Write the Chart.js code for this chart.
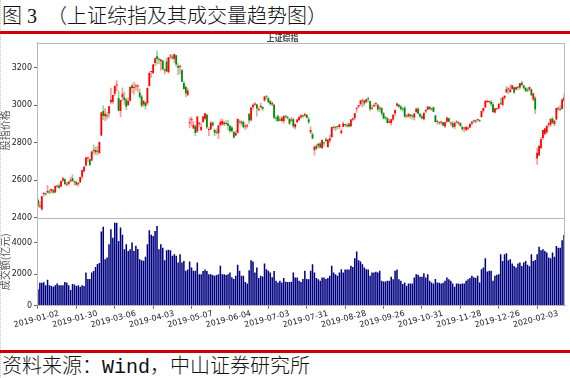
<!DOCTYPE html>
<html>
<head>
<meta charset="utf-8">
<title>上证综指及其成交量趋势图</title>
<script src="https://cdn.jsdelivr.net/npm/chart.js@4.4.1/dist/chart.umd.min.js"></script>
<style>
  html, body { margin: 0; padding: 0; background: #fff; }
  #page { position: relative; width: 570px; height: 378px; overflow: hidden; }
  .edge { position: absolute; left: 0; top: 0; height: 378px; border-left: 1px dotted #c8c8c8; }
  .caption { position: absolute; left: 2px; top: 6px; font-size: 20px; line-height: 20px; white-space: pre; font-weight: 300;
             font-family: "Liberation Serif", "Noto Sans CJK SC", serif; color: #111; }
  .rule { position: absolute; left: 0; width: 570px; height: 3px; background: #d00000; }
  .source { position: absolute; left: 2px; top: 358px; font-size: 20px; line-height: 20px; font-weight: 300;
            font-family: "Liberation Mono", "Noto Sans CJK SC", monospace; color: #111; }
  #chartBox { position: absolute; left: 0; top: 33px; width: 570px; height: 300px; }
</style>
</head>
<body>
<div id="page">
  <div class="edge"></div>
  <div class="caption">图 3  （上证综指及其成交量趋势图）</div>
  <div class="rule" style="top:31px"></div>
  <div id="chartBox"><canvas id="index-chart"></canvas></div>
  <div class="rule" style="top:350px"></div>
  <div class="source">资料来源：Wind，中山证券研究所</div>
</div>
<script>
// trading calendar: weekdays minus exchange holidays
const firstDay = '2019-01-02';
const lastDay = '2020-02-21';
const holidays = [
    '2019-01-01', '2019-02-04', '2019-02-05', '2019-02-06', '2019-02-07', '2019-02-08',
    '2019-04-05', '2019-05-01', '2019-05-02', '2019-05-03', '2019-06-07', '2019-09-13',
    '2019-10-01', '2019-10-02', '2019-10-03', '2019-10-04', '2019-10-07',
    '2020-01-01', '2020-01-24', '2020-01-27', '2020-01-28', '2020-01-29', '2020-01-30', '2020-01-31'
];
const tickEvery = 20; // a date label every 20 trading days
const priceTicks = [2400, 2600, 2800, 3000, 3200];
const volumeTicks = [0, 2000, 4000];

// 上证综指 daily open / high / low / close (one line per month)
const opens = [
    2497,2461,2446,2528,2530,2535,2538,2543,2548,2536,2568,2572,2568,2598,2606,2576,2581,2595,2611,2590,2591,2579,
    2589,2619,2648,2679,2718,2712,2705,2763,2750,2757,2745,2838,2968,2940,2943,
    2955,3015,3018,3060,3104,3038,2969,3041,3041,3029,3001,3023,3104,3091,3099,3099,3067,3046,3003,3014,3010,
    3102,3176,3170,3223,3260,3245,3233,3237,3183,3231,3175,3258,3257,3245,3265,3207,3202,3185,3117,3096,3052,
    2903,2919,2876,2888,2861,2901,2866,2910,2928,2948,2868,2872,2907,2867,2856,2850,2893,2897,2899,2905,
    2902,2890,2881,2858,2838,2853,2914,2903,2911,2885,2888,2954,2919,2988,3002,3003,2973,2990,2990,
    3024,3046,3036,3020,3003,3002,2930,2941,2921,2915,2916,2942,2937,2927,2917,2925,2882,2909,2920,2935,2945,2944,2947,
    2925,2855,2845,2761,2783,2784,2796,2772,2799,2818,2777,2811,2829,2881,2879,2888,2884,2850,2885,2897,2888,2901,
    2887,2923,2931,2980,2992,3004,3020,3025,3016,3032,3020,2981,2993,3004,3002,2981,2985,2958,2934,2931,
    2906,2905,2924,2955,2997,3002,2992,2979,2986,2940,2940,2950,2941,2934,2962,2982,2952,2941,
    2925,2966,2977,2990,2978,2989,2944,2910,2908,2906,2909,2886,2911,2930,2902,2903,2883,2912,2903,2905,2884,
    2875,2868,2874,2881,2902,2917,2913,2921,2921,2937,2969,2987,3017,3016,3016,3005,2961,2978,2982,3008,3000,3037,
    3067,3089,3070,3085,3095,3083,3097,3094,3119,3104,3091,3081,3083,3083,3030,3037,
    2716,2732,2772,2825,2846,2856,2894,2897,2927,2899,2924,2981,2979,2979,3024
];
const highs = [
    2501,2488,2515,2536,2531,2574,2551,2555,2554,2571,2575,2582,2598,2618,2609,2590,2595,2618,2630,2596,2597,2590,
    2618,2654,2674,2721,2724,2713,2754,2789,2778,2782,2805,2961,2997,2982,2960,
    2994,3090,3055,3103,3130,3075,3027,3092,3068,3035,3038,3097,3111,3121,3112,3107,3087,3052,3024,3014,3093,
    3176,3180,3216,3253,3288,3253,3242,3237,3193,3248,3254,3270,3266,3271,3266,3221,3212,3190,3128,3103,3088,
    2933,2938,2914,2896,2940,2909,2906,2942,2956,2949,2880,2913,2910,2872,2874,2892,2923,2927,2914,2918,
    2920,2892,2888,2858,2865,2928,2922,2918,2915,2897,2898,2955,2988,3005,3012,3005,2988,3010,2993,
    3045,3049,3042,3024,3017,3004,2942,2948,2939,2939,2943,2945,2941,2927,2935,2930,2900,2924,2941,2949,2948,2957,2951,
    2935,2885,2852,2784,2793,2795,2802,2815,2800,2826,2818,2840,2883,2890,2884,2889,2898,2872,2911,2898,2902,2905,
    2924,2931,2957,2988,3000,3026,3033,3027,3032,3042,3023,2999,3008,3015,3002,2994,2987,2960,2942,2932,
    2924,2925,2950,2976,3011,3003,2999,2985,2993,2947,2955,2950,2946,2956,2984,2985,2957,2948,
    2960,2976,2992,2994,2983,2990,2947,2920,2910,2915,2910,2910,2936,2930,2910,2915,2907,2919,2912,2906,2891,
    2881,2885,2884,2902,2913,2922,2919,2926,2922,2968,2985,3026,3028,3023,3026,3014,2983,2984,3007,3036,3041,3051,
    3098,3094,3108,3105,3095,3097,3101,3116,3128,3106,3094,3091,3096,3087,3062,3045,
    2772,2787,2829,2867,2876,2890,2908,2927,2936,2918,2984,2990,2999,3030,3058
];
const lows = [
    2456,2455,2440,2516,2520,2533,2528,2533,2530,2536,2562,2557,2565,2595,2576,2571,2575,2590,2596,2574,2575,2568,
    2589,2609,2644,2675,2701,2677,2705,2742,2736,2736,2742,2838,2922,2917,2925,
    2934,3006,3006,3050,3075,2969,2937,3024,3004,2976,2998,3019,3066,3056,3081,3070,3037,2989,2993,2978,3001,
    3102,3147,3165,3210,3218,3220,3185,3187,3164,3177,3170,3245,3242,3225,3207,3160,3167,3123,3085,3044,3052,
    2878,2889,2874,2838,2853,2888,2866,2906,2921,2875,2837,2868,2887,2838,2846,2822,2889,2895,2890,2896,
    2870,2855,2857,2824,2838,2852,2900,2893,2879,2870,2877,2902,2915,2977,2998,2941,2969,2984,2970,
    3019,3031,3012,3001,2996,2927,2915,2912,2917,2911,2903,2931,2924,2897,2913,2879,2872,2907,2918,2931,2932,2940,2930,
    2901,2848,2820,2734,2761,2771,2772,2768,2784,2803,2775,2800,2829,2872,2865,2872,2876,2849,2885,2885,2883,2882,
    2885,2916,2923,2962,2986,2998,2990,2997,3012,3017,2969,2977,2993,2994,2966,2966,2945,2925,2922,2904,
    2905,2893,2918,2943,2992,2985,2972,2967,2935,2932,2934,2931,2925,2920,2962,2953,2934,2927,
    2920,2960,2975,2976,2970,2964,2909,2899,2896,2897,2891,2880,2908,2910,2893,2880,2875,2904,2895,2887,2865,
    2858,2863,2870,2880,2895,2907,2905,2914,2911,2936,2962,2987,3013,3011,2995,2961,2957,2975,2982,3005,2993,3030,
    3067,3060,3066,3084,3060,3081,3082,3084,3103,3085,3073,3071,3076,3050,3022,2955,
    2685,2731,2768,2816,2841,2850,2883,2887,2899,2891,2924,2970,2970,2979,3020
];
const closes = [
    2465,2464,2515,2533,2526,2544,2535,2554,2536,2570,2570,2560,2596,2611,2580,2581,2592,2602,2597,2594,2576,2585,
    2618,2654,2672,2721,2720,2682,2754,2756,2761,2752,2804,2961,2942,2954,2941,
    2994,3028,3054,3102,3106,2970,3027,3060,3027,2991,3022,3096,3091,3091,3101,3104,3043,2997,3023,2995,3091,
    3170,3177,3216,3247,3245,3240,3242,3190,3189,3178,3254,3263,3250,3271,3215,3199,3202,3124,3086,3063,3078,
    2906,2926,2894,2851,2939,2904,2884,2939,2956,2882,2871,2906,2892,2853,2853,2892,2910,2915,2906,2899,
    2890,2862,2861,2828,2852,2926,2909,2911,2882,2888,2890,2918,2987,3002,3008,2982,2976,2997,2979,
    3045,3044,3015,3005,3011,2933,2928,2915,2918,2931,2942,2938,2932,2901,2924,2887,2900,2923,2937,2945,2941,2952,2933,
    2909,2868,2822,2778,2769,2795,2775,2815,2797,2809,2816,2824,2883,2880,2880,2883,2897,2864,2902,2894,2891,2886,
    2924,2930,2957,2986,3000,3025,3021,3009,3031,3031,2978,2986,2999,3006,2977,2985,2955,2929,2932,2905,
    2914,2925,2948,2974,3008,2991,2979,2977,2938,2940,2954,2941,2940,2955,2980,2954,2939,2929,
    2958,2975,2992,2979,2979,2964,2910,2915,2905,2910,2891,2909,2934,2911,2904,2885,2906,2907,2903,2890,2872,
    2876,2885,2878,2899,2912,2914,2917,2924,2916,2968,2984,3022,3017,3017,3005,2963,2983,2982,3007,3005,3040,3050,
    3085,3084,3083,3105,3067,3095,3092,3116,3107,3090,3074,3076,3096,3052,3061,2977,
    2747,2783,2818,2867,2876,2890,2902,2927,2906,2917,2984,2985,2975,3030,3040
];
// 成交额 (亿元)
const volumes = [
    1050,1450,1450,1480,1300,1650,1300,1250,1200,1300,1400,1300,1300,1300,1500,1450,1300,1000,1380,1350,1250,1300,
    1200,1300,1250,2100,1700,1700,2100,2200,2450,2650,2700,4700,5000,2950,3050,
    3900,4840,4300,5260,5260,4100,4950,4500,3580,3900,3470,3580,4000,3470,3800,3600,2950,2880,2850,3100,3900,
    4780,4500,4420,4740,5050,3580,3900,3680,2880,3520,3550,3520,3160,3260,3160,2740,3260,2740,2840,2210,2300,
    2800,2420,2210,2210,2740,2000,2000,2200,2300,2200,2000,2000,1950,1900,1950,2000,2530,2000,2000,1950,
    2000,2100,1800,1700,1900,2590,2210,1900,1900,1500,1400,2250,2880,2800,2100,2420,1750,1900,1850,
    2670,2310,2210,2100,1800,2200,1580,1470,1580,1470,1750,1520,1500,1500,1520,2100,1790,1790,1580,1500,1700,2210,1700,
    1680,2210,2630,2100,1750,1680,1580,1790,1790,1700,1750,1900,2530,2100,2000,1900,2100,2310,2100,2300,2300,2300,
    2530,2450,3000,3430,2880,2800,2630,2420,2310,2300,1900,2100,2100,2150,2100,2210,1580,1540,1540,1580,
    1580,1830,1680,2210,2300,1680,1580,1370,1470,1260,1400,1400,1400,1790,2000,1960,1830,1830,
    2060,1790,2000,1580,1470,1400,1700,1470,1450,1400,1450,1580,1790,1680,1580,1400,1200,1400,1400,1370,1400,
    1400,1580,1680,1750,1900,1800,1750,1900,1470,2310,2420,3010,2170,2210,2210,1580,1900,1960,2000,3260,2840,3260,
    3330,2880,2950,2670,2520,2420,2670,2740,2520,2740,2840,2600,2500,3260,2840,2900,
    3260,3730,3520,3580,3470,3370,3050,3010,3370,3100,3790,3680,3680,4150,4480
];

function tradingDays() {
    const days = [];
    const d = new Date(firstDay + 'T00:00:00Z');
    const end = new Date(lastDay + 'T00:00:00Z');
    while (d <= end) {
        const s = d.toISOString().slice(0, 10);
        const wd = d.getUTCDay();
        if (wd !== 0 && wd !== 6 && !holidays.includes(s)) days.push(s);
        d.setUTCDate(d.getUTCDate() + 1);
    }
    return days;
}

const labels = tradingDays();
const isUp = i => closes[i] >= opens[i];

Chart.defaults.font.family = "'DejaVu Sans', 'Noto Sans CJK SC', sans-serif";
Chart.defaults.color = '#222';

// light grey box round both panels plus the divider between them
const frame = {
    id: 'frame',
    afterDraw(chart) {
        const { ctx, chartArea: a, scales } = chart;
        ctx.save();
        ctx.strokeStyle = '#b8b8b8';
        ctx.lineWidth = 1;
        ctx.strokeRect(Math.round(a.left) + 0.5, Math.round(a.top) + 0.5,
            Math.round(a.right - a.left) - 1, Math.round(a.bottom - a.top) - 1);
        const yy = Math.round(scales.yv.top) + 0.5;
        ctx.beginPath();
        ctx.moveTo(a.left, yy);
        ctx.lineTo(a.right, yy);
        ctx.stroke();
        ctx.restore();
    }
};

const axisTitle = text => ({
    display: true, text: text, color: '#555', padding: { top: 0, bottom: 0 },
    font: { family: "'Noto Sans CJK SC', sans-serif", size: 10, lineHeight: 1 }
});
const tickMarks = { drawOnChartArea: false, tickLength: 3, color: '#666' };
const fixedTicks = list => axis => { axis.ticks = list.map(v => ({ value: v })); };
const axisWidth = axis => { axis.width = 37; };

const ctx = document.getElementById('index-chart').getContext('2d');
new Chart(ctx, {
    type: 'bar',
    data: {
        labels: labels,
        datasets: [
            {
                label: '影线',
                data: lows.map((l, i) => [l, highs[i]]),
                yAxisID: 'y',
                grouped: false,
                barThickness: 1,
                backgroundColor: c => isUp(c.dataIndex) ? 'rgba(255,0,0,0.4)' : 'rgba(0,140,0,0.4)',
                order: 2
            },
            {
                label: '实体',
                data: opens.map((o, i) => [o, closes[i]]),
                yAxisID: 'y',
                grouped: false,
                categoryPercentage: 1,
                barPercentage: 0.9,
                minBarLength: 1,
                backgroundColor: c => isUp(c.dataIndex) ? '#ff0000' : '#008a00',
                order: 1
            },
            {
                label: '成交额',
                data: volumes,
                yAxisID: 'yv',
                grouped: false,
                categoryPercentage: 1,
                barPercentage: 0.8,
                backgroundColor: '#000080'
            }
        ]
    },
    options: {
        responsive: true,
        maintainAspectRatio: false,
        animation: false,
        devicePixelRatio: 1,
        layout: { padding: { left: 0, right: 5, top: 0, bottom: 3 } },
        plugins: {
            legend: { display: false },
            tooltip: { enabled: false },
            title: {
                display: true,
                text: '上证综指',
                color: '#444',
                padding: { top: 0, bottom: 0 },
                font: { family: "'Noto Sans CJK SC', sans-serif", size: 8, weight: 'bold' }
            }
        },
        scales: {
            x: {
                offset: true,
                afterFit: axis => { axis.paddingLeft = 0; axis.paddingRight = 0; },
                grid: {
                    offset: false, drawOnChartArea: false, tickLength: 3,
                    color: c => c.index % tickEvery === 0 ? '#666' : 'rgba(0,0,0,0)'
                },
                border: { color: '#b8b8b8' },
                ticks: {
                    autoSkip: false,
                    minRotation: 15,
                    maxRotation: 15,
                    labelOffset: 21,
                    padding: 0,
                    font: { size: 8 },
                    callback: (v, i) => i % tickEvery === 0 ? labels[i] : ''
                }
            },
            yv: {
                position: 'left',
                stack: 'panels',
                stackWeight: 1,
                min: 0,
                max: 5560,
                afterBuildTicks: fixedTicks(volumeTicks),
                afterFit: axisWidth,
                grid: tickMarks,
                border: { color: '#b8b8b8' },
                ticks: { padding: 2, font: { size: 8 }, callback: v => v },
                title: axisTitle('成交额(亿元)')
            },
            y: {
                position: 'left',
                stack: 'panels',
                stackWeight: 2,
                min: 2400,
                max: 3332,
                afterBuildTicks: fixedTicks(priceTicks),
                afterFit: axisWidth,
                grid: tickMarks,
                border: { color: '#b8b8b8' },
                ticks: { padding: 2, font: { size: 8 }, callback: v => v },
                title: axisTitle('股指价格')
            }
        }
    },
    plugins: [frame]
});
</script>
</body>
</html>
